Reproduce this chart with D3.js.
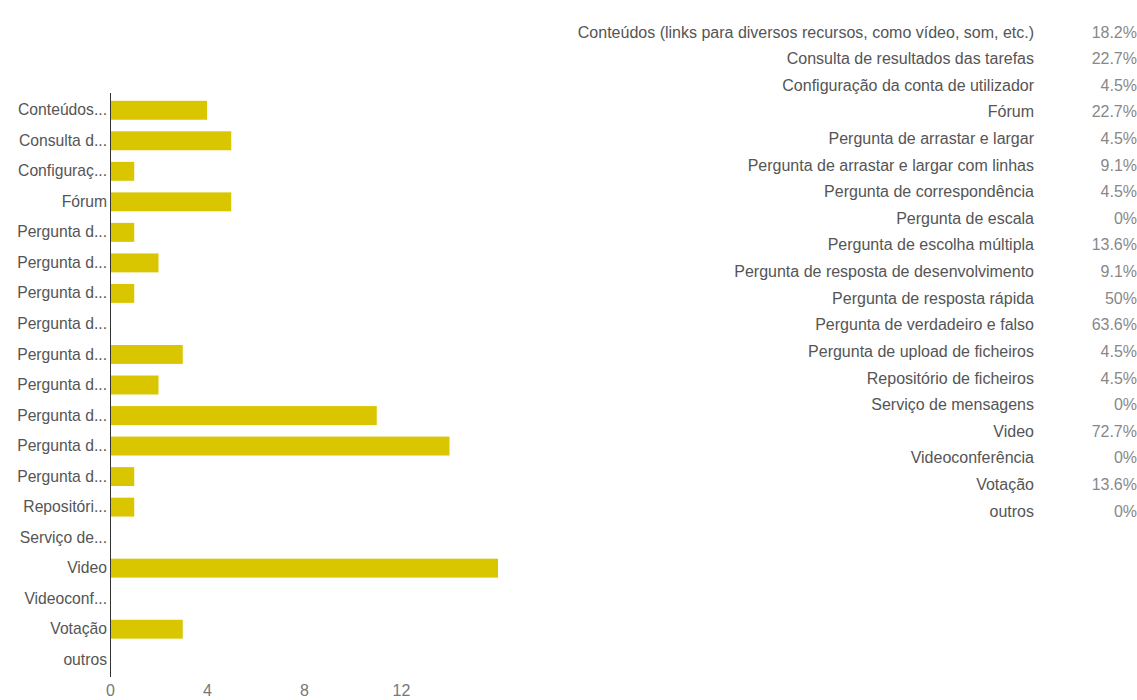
<!DOCTYPE html>
<html>
<head>
<meta charset="utf-8">
<script src="https://cdn.jsdelivr.net/npm/d3@7"></script>
<style>
  html, body { margin: 0; padding: 0; background: #fff; }
  svg { display: block; font-family: Arial, "Liberation Sans", sans-serif; }
</style>
</head>
<body>
<svg id="chart" width="1137" height="700"></svg>
<script>
// Response options, in survey order
const categories = [
  "Conteúdos (links para diversos recursos, como vídeo, som, etc.)",
  "Consulta de resultados das tarefas",
  "Configuração da conta de utilizador",
  "Fórum",
  "Pergunta de arrastar e largar",
  "Pergunta de arrastar e largar com linhas",
  "Pergunta de correspondência",
  "Pergunta de escala",
  "Pergunta de escolha múltipla",
  "Pergunta de resposta de desenvolvimento",
  "Pergunta de resposta rápida",
  "Pergunta de verdadeiro e falso",
  "Pergunta de upload de ficheiros",
  "Repositório de ficheiros",
  "Serviço de mensagens",
  "Video",
  "Videoconferência",
  "Votação",
  "outros"
];

// Shortened labels shown beside the bars
const axisLabels = [
  "Conteúdos...", "Consulta d...", "Configuraç...", "Fórum",
  "Pergunta d...", "Pergunta d...", "Pergunta d...", "Pergunta d...",
  "Pergunta d...", "Pergunta d...", "Pergunta d...", "Pergunta d...",
  "Pergunta d...", "Repositóri...", "Serviço de...", "Video",
  "Videoconf...", "Votação", "outros"
];

// Number of respondents choosing each option
const counts = [4, 5, 1, 5, 1, 2, 1, 0, 3, 2, 11, 14, 1, 1, 0, 16, 0, 3, 0];

// Share of respondents, as printed in the summary table
const percents = ["18.2%", "22.7%", "4.5%", "22.7%", "4.5%", "9.1%", "4.5%", "0%",
  "13.6%", "9.1%", "50%", "63.6%", "4.5%", "4.5%", "0%", "72.7%", "0%", "13.6%", "0%"];

const xTicks = [0, 4, 8, 12];

const svg = d3.select("#chart");

// ---- Bar chart ----
const x = d3.scaleLinear().domain([0, 16]).range([110, 498]);
const y = d3.scaleBand()
  .domain(d3.range(categories.length))
  .range([95, 675])
  .paddingInner(0.38)
  .paddingOuter(0.19);

svg.append("g")
  .selectAll("rect")
  .data(counts)
  .join("rect")
  .attr("x", x(0))
  .attr("y", (d, i) => y(i))
  .attr("width", d => x(d) - x(0))
  .attr("height", y.bandwidth())
  .attr("fill", "#d9c500");

// Category axis
const yAxis = d3.axisLeft(y)
  .tickSize(0)
  .tickPadding(3)
  .tickFormat(i => axisLabels[i]);

const gy = svg.append("g")
  .attr("transform", `translate(${x(0)},0)`)
  .call(yAxis);
gy.select(".domain")
  .attr("d", `M0.5,93V677`)
  .attr("stroke", "#333")
  .attr("stroke-width", 1);
gy.selectAll("text")
  .attr("fill", "#555")
  .style("font-size", "15.7px")
  .style("font-family", "Arial, 'Liberation Sans', sans-serif");

// Value axis (labels only)
const xAxis = d3.axisBottom(x)
  .tickValues(xTicks)
  .tickSize(0)
  .tickPadding(0)
  .tickFormat(d3.format("d"));

const gx = svg.append("g")
  .attr("transform", "translate(0,685)")
  .call(xAxis);
gx.select(".domain").remove();
gx.selectAll("text")
  .attr("fill", "#777")
  .style("font-size", "16px")
  .style("font-family", "Arial, 'Liberation Sans', sans-serif");

// ---- Summary table ----
const rowY = d3.scaleLinear().domain([0, categories.length - 1]).range([32, 511]);

const table = svg.append("g")
  .style("font-family", "Arial, 'Liberation Sans', sans-serif")
  .style("font-size", "16px");

table.selectAll("text.label")
  .data(categories)
  .join("text")
  .attr("class", "label")
  .attr("x", 1034)
  .attr("y", (d, i) => rowY(i))
  .attr("dy", "0.35em")
  .attr("text-anchor", "end")
  .attr("fill", "#555")
  .text(d => d);

table.selectAll("text.pct")
  .data(percents)
  .join("text")
  .attr("class", "pct")
  .attr("x", 1137)
  .attr("y", (d, i) => rowY(i))
  .attr("dy", "0.35em")
  .attr("text-anchor", "end")
  .attr("fill", "#888")
  .text(d => d);
</script>
</body>
</html>
